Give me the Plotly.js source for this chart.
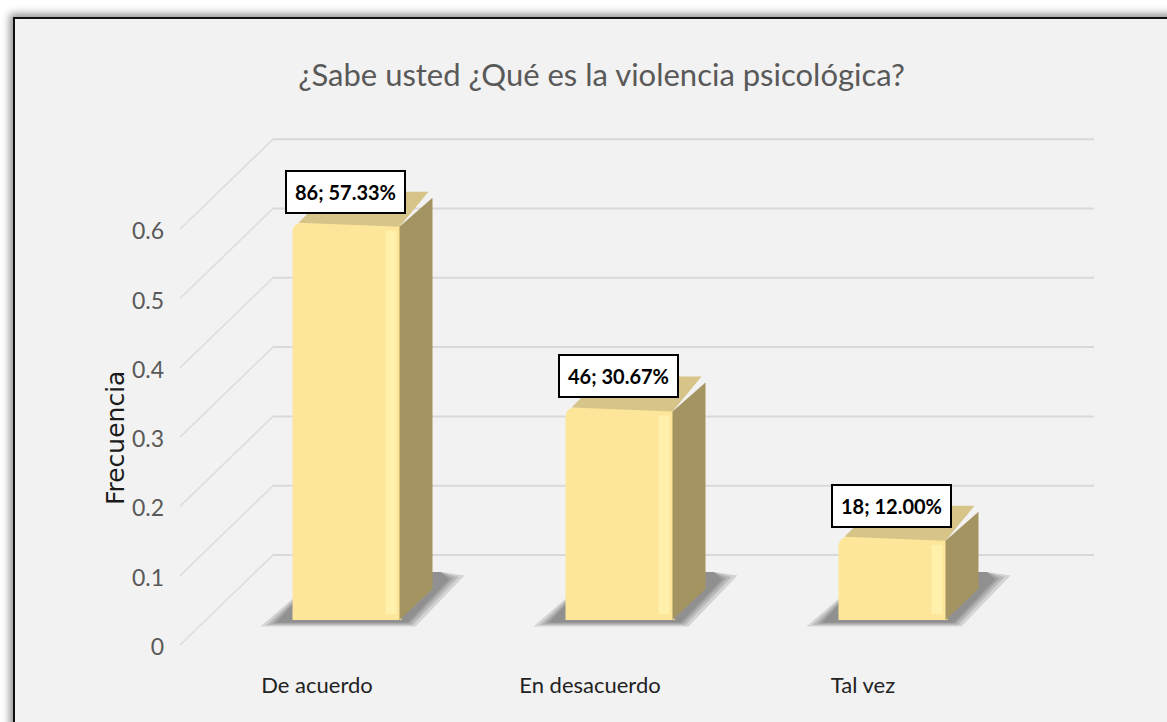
<!DOCTYPE html>
<html><head><meta charset="utf-8">
<script src="https://cdn.plot.ly/plotly-3.0.1.min.js"></script>
<style>
html,body{margin:0;padding:0;background:#fff;width:1167px;height:722px;overflow:hidden}
#frame{position:absolute;left:13px;top:17px;border:2px solid #111;box-shadow:-3px -3px 8px rgba(0,0,0,0.45);width:1170px;height:720px;background:#f2f2f2}
#chart{width:1170px;height:720px}
</style></head><body><div id="frame"><div id="chart"></div></div>
<script>
// ---- data ----
const categories = ['De acuerdo', 'En desacuerdo', 'Tal vez'];
const frequencies = [86, 46, 18];
const proportions = [0.5733, 0.3067, 0.12];
const percentLabels = ['57.33%', '30.67%', '12.00%'];
const tickValues = [0, 0.1, 0.2, 0.3, 0.4, 0.5, 0.6];
const tickLabels = ['0', '0.1', '0.2', '0.3', '0.4', '0.5', '0.6'];
const chartTitle = '¿Sabe usted ¿Qué es la violencia psicológica?';
const yTitle = 'Frecuencia';

// ---- geometry (pixel scales of the oblique 3D look) ----
const PX = 273, PY = 693;
const px = p => p / PX, py = p => p / PY;
const xr = [px(-172), px(753)];
const yr = [py(-40), py(520)];
const BAR_W = px(109);
const DX = px(31), DY = py(31);
const WALL_X0 = px(-74), WALL_X1 = px(747), WALL_DY = py(65);
const FRONT_X = px(-167), FRONT_DY = py(-25);
const xPos = categories.map((c, i) => i);
const labelPos = xPos.map(x => x - px(30));

const humanist = 'Lato, "Liberation Sans", sans-serif';

// shapes: back-wall grid, floor diagonals, shadows (below the bars)
const shapes = [];
tickValues.forEach(v => {
  shapes.push({type: 'line', layer: 'below', xref: 'x', yref: 'y',
    x0: WALL_X0, x1: WALL_X1, y0: v + WALL_DY, y1: v + WALL_DY,
    line: {color: '#d9d9d9', width: 2}});
  shapes.push({type: 'line', layer: 'below', xref: 'x', yref: 'y',
    x0: FRONT_X, x1: WALL_X0, y0: v + FRONT_DY, y1: v + WALL_DY,
    line: {color: '#dcdcdc', width: 1.5}});
});
xPos.forEach(x => {
  const L = x - BAR_W / 2, R = x + BAR_W / 2;
  [18, 12, 7, 3].forEach(e => {
    const pts = [[L - px(14 + e), py(-2 - e / 4)], [R + px(5 + e / 2), py(-2 - e / 4)],
      [R + DX + px(14 + e), py(40 + e / 4)], [R + DX + px(8), py(48)], [L + DX, py(48)]];
    shapes.push({type: 'path', layer: 'below', xref: 'x', yref: 'y',
      path: 'M' + pts.map(p => p[0] + ',' + p[1]).join('L') + 'Z',
      fillcolor: 'rgba(50,50,50,0.16)', line: {width: 0}});
  });
});

const traces = [];
traces.push({type: 'bar', x: xPos, y: proportions, width: BAR_W,
  marker: {color: '#fde69a', cornerradius: 9, line: {width: 0}},
  hoverinfo: 'skip', showlegend: false});
// side faces, top faces, highlights
xPos.forEach((x, i) => {
  const v = proportions[i], L = x - BAR_W / 2, R = x + BAR_W / 2;
  traces.push({type: 'scatter', mode: 'lines', fill: 'toself', fillcolor: '#a49462',
    x: [R - px(2), R + DX, R + DX, R - px(2), R - px(2)],
    y: [0, DY, v + DY - py(6), v - py(4), 0],
    line: {width: 0, color: '#a49462'}, hoverinfo: 'skip', showlegend: false});
  traces.push({type: 'scatter', mode: 'lines', fill: 'toself', fillcolor: '#d6c488',
    x: [L + px(6), L + DX + px(6), R + DX - px(4), R - px(2), L + px(6)],
    y: [v, v + DY, v + DY, v - py(4), v],
    line: {width: 0, color: '#d6c488'}, hoverinfo: 'skip', showlegend: false});
  traces.push({type: 'scatter', mode: 'lines', fill: 'toself', fillcolor: 'rgba(255,244,178,0.75)',
    x: [R - px(16), R - px(5), R - px(5), R - px(16), R - px(16)],
    y: [py(6), py(6), v - py(8), v - py(8), py(6)],
    line: {width: 0, color: 'rgba(0,0,0,0)'}, hoverinfo: 'skip', showlegend: false});
});

const annotations = xPos.map((x, i) => ({
  xref: 'x', yref: 'y', x: x, y: proportions[i], yanchor: 'bottom', xanchor: 'center',
  xshift: -2, yshift: 9, showarrow: false,
  text: '<b>' + frequencies[i] + '; ' + percentLabels[i] + '</b>',
  font: {family: humanist, size: 20, color: '#000'},
  bgcolor: '#ffffff', bordercolor: '#000000', borderwidth: 2, borderpad: 8
}));
annotations.push({xref: 'paper', yref: 'paper', x: -0.0649, y: 0.398, showarrow: false,
  textangle: -90, text: yTitle, xanchor: 'center', yanchor: 'middle',
  font: {family: '"DejaVu Sans", sans-serif', size: 25, color: '#1a1a1a'}});

const layout = {
  width: 1170, height: 720,
  margin: {l: 160, r: 85, t: 81, b: 79},
  paper_bgcolor: '#f2f2f2', plot_bgcolor: 'rgba(0,0,0,0)',
  showlegend: false,
  title: {text: chartTitle, x: 0.5013, xref: 'container', y: 0.922, yref: 'container',
    xanchor: 'center', yanchor: 'middle',
    font: {family: humanist, size: 31, color: '#595959'}},
  xaxis: {range: xr, tickmode: 'array', tickvals: labelPos, ticktext: categories,
    showgrid: false, zeroline: false, showline: false, ticks: '',
    ticklabelstandoff: 10, tickfont: {family: humanist, size: 22, color: '#222'}, fixedrange: true},
  yaxis: {range: yr, showgrid: false, zeroline: false, showline: false,
    showticklabels: false, ticks: '', fixedrange: true},
  yaxis2: {overlaying: 'y', side: 'left', range: [yr[0] + py(27), yr[1] + py(27)],
    tickmode: 'array', tickvals: tickValues, ticktext: tickLabels,
    showgrid: false, zeroline: false, showline: false, ticks: '', ticklabelstandoff: 10,
    tickfont: {family: humanist, size: 23, color: '#595959'}, fixedrange: true},
  shapes: shapes, annotations: annotations
};
// invisible helper trace that activates yaxis2
traces.push({type: 'scatter', x: [xr[0]], y: [0], yaxis: 'y2', mode: 'markers',
  marker: {opacity: 0}, hoverinfo: 'skip', showlegend: false});

Plotly.newPlot('chart', traces, layout, {displayModeBar: false, staticPlot: true});
</script></body></html>
